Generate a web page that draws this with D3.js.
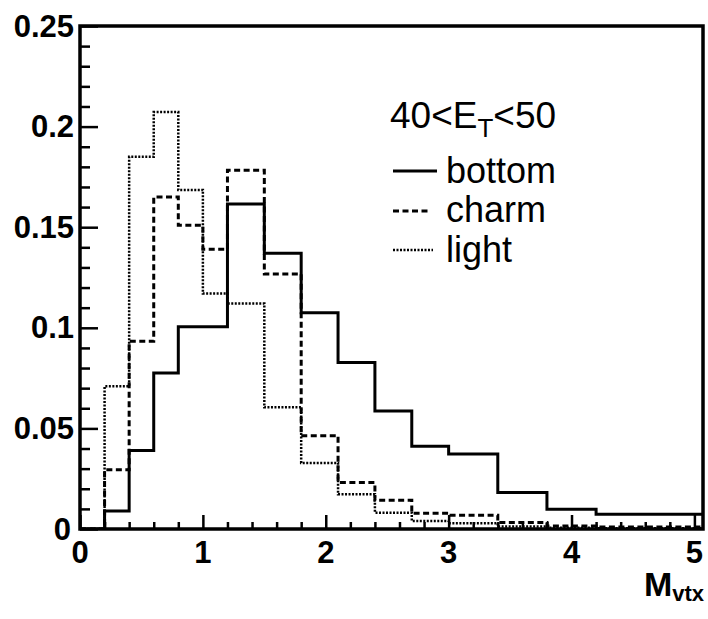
<!DOCTYPE html>
<html>
<head>
<meta charset="utf-8">
<script src="https://cdn.jsdelivr.net/npm/d3@7"></script>
<style>
  html, body { margin: 0; padding: 0; background: #fff; }
  svg { display: block; }
  text { font-family: "Liberation Sans", Arial, Helvetica, sans-serif; fill: #000; }
</style>
</head>
<body>
<svg id="chart" width="708" height="619"></svg>
<script>
// Vertex-mass distributions, 40 < E_T < 50, normalised per flavour.
const binEdges = [0, 0.2, 0.4, 0.6, 0.8, 1.0, 1.2, 1.5, 1.8, 2.1, 2.4, 2.7, 3.0, 3.4, 3.8, 4.2, 5.07];
const bottomValues = [0, 0.009, 0.039, 0.0775, 0.1005, 0.1005, 0.1615, 0.137, 0.1075, 0.0827, 0.0586, 0.0411, 0.0373, 0.0181, 0.0098, 0.0073];
const charmValues  = [0, 0.0294, 0.0933, 0.165, 0.151, 0.139, 0.1783, 0.1267, 0.0464, 0.0231, 0.0143, 0.0078, 0.0068, 0.0032, 0.0015, 0.001];
const lightValues  = [0, 0.0709, 0.185, 0.2072, 0.1685, 0.117, 0.1121, 0.0605, 0.0328, 0.0173, 0.0081, 0.004, 0.0028, 0.0012, 0.0006, 0.0004];
const seriesNames = ["bottom", "charm", "light"];
const xTickLabels = [0, 1, 2, 3, 4, 5];
const yTickLabels = [0, 0.05, 0.1, 0.15, 0.2, 0.25];
const xDomain = [0, 5.07];
const yDomain = [0, 0.25];

const svg = d3.select("#chart");
const x = d3.scaleLinear().domain(xDomain).range([80, 703]);
const y = d3.scaleLinear().domain(yDomain).range([529, 26]);

const styles = {
  bottom: { width: 3, dash: null },
  charm:  { width: 3, dash: "6,3.5" },
  light:  { width: 2.5, dash: "2,1.5" }
};

svg.append("clipPath").attr("id", "plotClip")
  .append("rect")
  .attr("x", x(xDomain[0])).attr("y", y(yDomain[1]))
  .attr("width", x(xDomain[1]) - x(xDomain[0]))
  .attr("height", y(yDomain[0]) - y(yDomain[1]));

// step outline of a histogram
function stepPoints(values) {
  const pts = [];
  values.forEach((v, i) => {
    pts.push([binEdges[i], v]);
    pts.push([binEdges[i + 1], v]);
  });
  return pts;
}
const line = d3.line().x(d => x(d[0])).y(d => y(d[1]));

const data = { bottom: bottomValues, charm: charmValues, light: lightValues };
const g = svg.append("g").attr("clip-path", "url(#plotClip)");
["light", "charm", "bottom"].forEach(name => {
  g.append("path")
    .attr("d", line(stepPoints(data[name])))
    .attr("fill", "none")
    .attr("stroke", "#000")
    .attr("stroke-width", styles[name].width)
    .attr("stroke-dasharray", styles[name].dash);
});

// frame
svg.append("rect")
  .attr("x", x(xDomain[0])).attr("y", y(yDomain[1]))
  .attr("width", x(xDomain[1]) - x(xDomain[0]))
  .attr("height", y(yDomain[0]) - y(yDomain[1]))
  .attr("fill", "none").attr("stroke", "#000").attr("stroke-width", 3.5);

// y axis: inward ticks, majors every 0.05, minors every 0.01
const yAxis = d3.axisRight(y)
  .tickValues(d3.range(0, 0.2501, 0.01))
  .tickSize(0).tickFormat("");
const yAxisG = svg.append("g").attr("transform", `translate(${x(0)},0)`).call(yAxis);
yAxisG.select(".domain").remove();
yAxisG.selectAll(".tick line")
  .attr("x2", (d) => (Math.abs(Math.round(d * 100) % 5) === 0 ? 18 : 10))
  .attr("stroke", "#000").attr("stroke-width", 2.5);

svg.append("g").selectAll("text").data(yTickLabels).join("text")
  .attr("x", d => d === 0 ? 71 : 74)
  .attr("y", d => y(d))
  .attr("text-anchor", "end")
  .attr("dominant-baseline", "central")
  .attr("font-size", 31).attr("font-weight", "bold")
  .text(d => d === 0 ? "0" : String(d));

// x axis: inward ticks, majors every 1, minors every 0.2
const xAxis = d3.axisTop(x)
  .tickValues(d3.range(0, 5.01, 0.2))
  .tickSize(0).tickFormat("");
const xAxisG = svg.append("g").attr("transform", `translate(0,${y(0)})`).call(xAxis);
xAxisG.select(".domain").remove();
xAxisG.selectAll(".tick line")
  .attr("y2", d => (Math.abs(Math.round(d * 10) % 10) === 0 ? -14 : -7))
  .attr("stroke", "#000").attr("stroke-width", 2.5);

svg.append("g").selectAll("text").data(xTickLabels).join("text")
  .attr("x", d => x(d))
  .attr("y", 563)
  .attr("text-anchor", "middle")
  .attr("font-size", 31).attr("font-weight", "bold")
  .text(d => d);

// axis title
const title = svg.append("text").attr("x", 704).attr("y", 596)
  .attr("text-anchor", "end").attr("font-weight", "bold");
title.append("tspan").attr("font-size", 34).text("M");
title.append("tspan").attr("font-size", 22).attr("dy", 5).text("vtx");

// legend
const leg = svg.append("g");
const head = leg.append("text").attr("x", 390).attr("y", 128).attr("font-size", 37);
head.append("tspan").text("40<E");
head.append("tspan").attr("font-size", 26).attr("dy", 9).text("T");
head.append("tspan").attr("dy", -9).text("<50");

const legendRows = [
  { name: seriesNames[0], ly: 171, ty: 183, x2: 437 },
  { name: seriesNames[1], ly: 211, ty: 222, x2: 431 },
  { name: seriesNames[2], ly: 250, ty: 262, x2: 433 }
];
legendRows.forEach(r => {
  leg.append("line")
    .attr("x1", 393).attr("x2", r.x2).attr("y1", r.ly).attr("y2", r.ly)
    .attr("stroke", "#000")
    .attr("stroke-width", styles[r.name].width)
    .attr("stroke-dasharray", styles[r.name].dash);
  leg.append("text").attr("x", 446).attr("y", r.ty)
    .attr("font-size", 36).text(r.name);
});
</script>
</body>
</html>
